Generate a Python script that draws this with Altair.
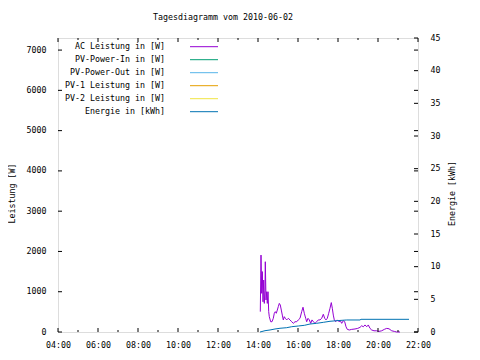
import altair as alt
import pandas as pd

FONT = "DejaVu Sans Mono"
FS = 8.3

chart_title = "Tagesdiagramm vom 2010-06-02"
y_title = "Leistung [W]"
y2_title = "Energie [kWh]"

series_names = ["AC Leistung in [W]", "PV-Power-In in [W]", "PV-Power-Out in [W]",
                "PV-1 Leistung in [W]", "PV-2 Leistung in [W]", "Energie in [kWh]"]
series_colors = ["#9400d3", "#009e73", "#56b4e9", "#e69f00", "#f0e442", "#0072b2"]

ac_time = [14.115, 14.15, 14.185, 14.215, 14.25, 14.285, 14.315, 14.35, 14.365, 14.40,
           14.435, 14.465, 14.50, 14.535, 14.565, 14.635, 14.70, 14.765, 14.815, 14.865,
           14.915, 14.965, 15.015, 15.065, 15.115, 15.165, 15.215, 15.265, 15.315, 15.365,
           15.435, 15.515, 15.60, 15.685, 15.765, 15.85, 15.935, 16.015, 16.10, 16.185,
           16.25, 16.315, 16.385, 16.435, 16.50, 16.565, 16.635, 16.70, 16.765, 16.85,
           16.935, 17.015, 17.10, 17.185, 17.265, 17.335, 17.40, 17.465, 17.535, 17.60,
           17.665, 17.715, 17.765, 17.815, 17.885, 17.965, 18.05, 18.115, 18.185, 18.265,
           18.335, 18.40, 18.465, 18.565, 18.685, 18.85, 18.985, 19.10, 19.185, 19.265,
           19.35, 19.435, 19.515, 19.60, 19.685, 19.80, 19.935, 20.05, 20.185, 20.315,
           20.435, 20.55, 20.685, 20.815, 20.935, 21.10]
ac_power = [505, 1910, 960, 1500, 750, 1290, 710, 1040, 1745, 795,
            1000, 710, 1000, 505, 380, 255, 255, 340, 465, 505,
            465, 545, 630, 710, 670, 545, 420, 300, 380, 340,
            300, 340, 300, 255, 215, 255, 255, 300, 340, 505,
            615, 465, 340, 255, 340, 300, 215, 300, 255, 215,
            255, 300, 300, 340, 440, 340, 300, 340, 465, 590,
            730, 590, 420, 300, 255, 300, 255, 280, 215, 280,
            255, 130, 65, 50, 65, 75, 90, 115, 155, 130,
            175, 130, 175, 90, 50, 30, 30, 15, 30, 65,
            90, 80, 30, 15, 0, 0]

energy_time = [14.10, 14.35, 14.60, 14.85, 15.10, 15.435, 15.685, 16.015, 16.315, 16.60,
               16.935, 17.265, 17.60, 17.935, 18.435, 19.10, 19.15, 21.55]
energy_kwh = [0.0, 0.20, 0.31, 0.46, 0.57, 0.66, 0.81, 0.92, 1.02, 1.22,
              1.33, 1.48, 1.64, 1.73, 1.84, 1.84, 1.94, 1.94]

x_major = [4, 6, 8, 10, 12, 14, 16, 18, 20, 22]
x_minor = [5, 7, 9, 11, 13, 15, 17, 19, 21]
power_ticks = [0, 1000, 2000, 3000, 4000, 5000, 6000, 7000]
energy_ticks = [0, 5, 10, 15, 20, 25, 30, 35, 40, 45]

W, H = 360, 294

ac_df = pd.DataFrame({"t": ac_time, "w": ac_power, "s": series_names[0]})
en_df = pd.DataFrame({"t": energy_time, "e": energy_kwh, "s": series_names[5]})
leg_df = pd.DataFrame({"row": list(range(len(series_names))), "s": series_names})
title_df = pd.DataFrame({"txt": [chart_title]})
xmaj_df = pd.DataFrame({"t": x_major})
xmin_df = pd.DataFrame({"t": x_minor})
pt_df = pd.DataFrame({"w": power_ticks})
et_df = pd.DataFrame({"e": energy_ticks})

x_scale = alt.Scale(domain=[4, 22], nice=False, zero=False)
x_axis = alt.Axis(values=x_major, labelExpr="(datum.value < 10 ? '0' : '') + datum.value + ':00'",
                  ticks=False, domain=False, grid=False, labelPadding=8, labelFlush=False,
                  labelOverlap=False, labelFont=FONT, labelFontSize=FS, labelColor="black")
p_scale = alt.Scale(domain=[0, 7300], nice=False, zero=False)
e_scale = alt.Scale(domain=[0, 45], nice=False, zero=False)
color_scale = alt.Scale(domain=series_names, range=series_colors)

X = alt.X("t:Q", scale=x_scale, axis=x_axis, title="")

power = alt.Chart(ac_df).mark_line(strokeWidth=1).encode(
    x=X,
    y=alt.Y("w:Q", scale=p_scale, title=y_title,
            axis=alt.Axis(orient="left", values=power_ticks, format="d", ticks=False, domain=False,
                          grid=False, labelPadding=12, labelFlush=False, labelOverlap=False,
                          labelFont=FONT, labelFontSize=FS, labelColor="black",
                          titleFont=FONT, titleFontSize=FS, titleFontWeight="normal", titleColor="black",
                          titleAngle=270, titleX=-46, titleY=155, titleAlign="center",
                          titleBaseline="middle")),
    color=alt.Color("s:N", scale=color_scale, legend=None),
)

energy = alt.Chart(en_df).mark_line(strokeWidth=1).encode(
    x=X,
    y=alt.Y("e:Q", scale=e_scale, title=y2_title,
            axis=alt.Axis(orient="right", values=energy_ticks, format="d", ticks=False, domain=False,
                          grid=False, labelPadding=12, labelFlush=False, labelOverlap=False,
                          labelFont=FONT, labelFontSize=FS, labelColor="black",
                          titleFont=FONT, titleFontSize=FS, titleFontWeight="normal", titleColor="black",
                          titleAngle=270, titleX=34, titleY=155, titleAlign="center",
                          titleBaseline="middle")),
    color=alt.Color("s:N", scale=color_scale, legend=None),
)

row_y = alt.Y("row:Q", scale=alt.Scale(domain=[-0.669, 21.946], range=[0, H], nice=False, zero=False),
              axis=None)
leg_text = alt.Chart(leg_df).mark_text(align="right", baseline="middle", font=FONT,
                                       fontSize=FS, color="black").encode(
    x=alt.value(107), y=row_y, text="s:N")
leg_line = alt.Chart(leg_df).mark_rule(strokeWidth=1).encode(
    x=alt.value(132), x2=alt.value(160), y=row_y,
    color=alt.Color("s:N", scale=color_scale, legend=None))

title_mark = alt.Chart(title_df).mark_text(align="center", baseline="middle", font=FONT,
                                           fontSize=FS, color="black").encode(
    x=alt.value(165), y=alt.value(-20), text="txt:N")

tick_layers = []
for df, ln in ((xmaj_df, 4), (xmin_df, 2)):
    tick_layers.append(alt.Chart(df).mark_rule(color="black", strokeWidth=1).encode(
        x=X, y=alt.value(H), y2=alt.value(H - ln)))
    tick_layers.append(alt.Chart(df).mark_rule(color="black", strokeWidth=1).encode(
        x=X, y=alt.value(0), y2=alt.value(ln)))

tick_layers.append(alt.Chart(pt_df).mark_rule(color="black", strokeWidth=1).encode(
    y=alt.Y("w:Q", scale=p_scale, axis=None), x=alt.value(0), x2=alt.value(4)))
tick_layers.append(alt.Chart(pt_df).mark_rule(color="black", strokeWidth=1).encode(
    y=alt.Y("w:Q", scale=p_scale, axis=None), x=alt.value(W - 4), x2=alt.value(W)))
tick_layers.append(alt.Chart(et_df).mark_rule(color="black", strokeWidth=1).encode(
    y=alt.Y("e:Q", scale=e_scale, axis=None), x=alt.value(W - 4), x2=alt.value(W)))

chart = alt.layer(power, energy, leg_text, leg_line, title_mark, *tick_layers).resolve_scale(
    y="independent"
).properties(
    width=W, height=H,
    autosize=alt.AutoSizeParams(type="none"),
    padding={"left": 50, "top": 30, "right": 54, "bottom": 20},
).configure_view(stroke="black", strokeWidth=1).configure(background="white")

chart.save("out.html", embed_options={"renderer": "svg", "actions": False})
